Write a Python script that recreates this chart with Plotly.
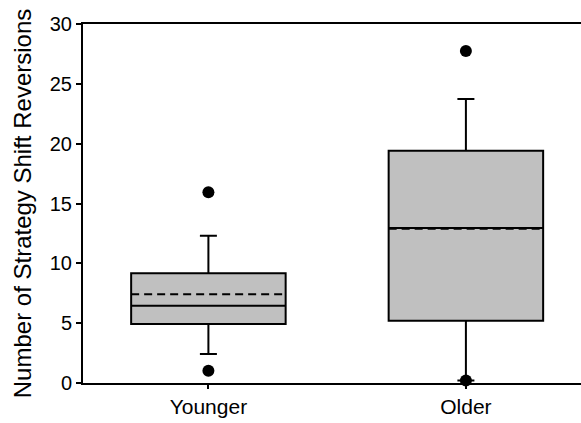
import plotly.graph_objects as go

categories = ["Younger", "Older"]
q1 = [4.93, 5.21]
median = [6.46, 12.95]
q3 = [9.17, 19.41]
lower_whisker = [2.42, 0.2]
upper_whisker = [12.31, 23.73]
means = [7.41, 12.9]
outlier_x = ["Younger", "Younger", "Older", "Older"]
outlier_y = [15.94, 1.03, 27.74, 0.2]

y_ticks = [0, 5, 10, 15, 20, 25, 30]

box_width = 0.6

fig = go.Figure()
fig.add_trace(go.Box(
    x=categories,
    q1=q1, median=median, q3=q3,
    lowerfence=lower_whisker, upperfence=upper_whisker,
    boxpoints=False,
    width=box_width, whiskerwidth=0.11,
    fillcolor="#C0C0C0",
    line=dict(color="black", width=2),
    showlegend=False,
    hoverinfo="skip",
))
# dashed mean lines across each box
for i, m in enumerate(means):
    fig.add_shape(
        type="line", xref="x", yref="y",
        x0=i - box_width / 2, x1=i + box_width / 2, y0=m, y1=m,
        line=dict(color="black", width=2, dash="8px,5px"),
    )
fig.add_trace(go.Scatter(
    x=outlier_x, y=outlier_y, mode="markers",
    marker=dict(color="black", size=12),
    cliponaxis=False, showlegend=False,
))

font_family = "Liberation Sans, Arial, sans-serif"
fig.update_layout(
    width=581, height=423,
    margin=dict(l=83, r=0, t=24, b=40),
    paper_bgcolor="white", plot_bgcolor="white",
    font=dict(family=font_family, color="black", size=20),
)
fig.update_xaxes(
    type="category",
    categoryorder="array", categoryarray=categories,
    range=[-0.487, 1.447],
    showline=True, linecolor="black", linewidth=2, mirror=True,
    ticks="outside", ticklen=4, tickwidth=2, tickcolor="black",
    showgrid=False, zeroline=False,
    tickfont=dict(size=21),
)
fig.update_yaxes(
    range=[0, 30], tickvals=y_ticks,
    showline=True, linecolor="black", linewidth=2,
    ticks="outside", ticklen=5, tickwidth=2, tickcolor="black",
    showgrid=False, zeroline=False,
    tickfont=dict(size=20),
    title=dict(text="Number of Strategy Shift Reversions", font=dict(size=24), standoff=11),
)

fig.write_html("out.html", config={"displayModeBar": False},
               post_script="document.body.style.margin='0';")
